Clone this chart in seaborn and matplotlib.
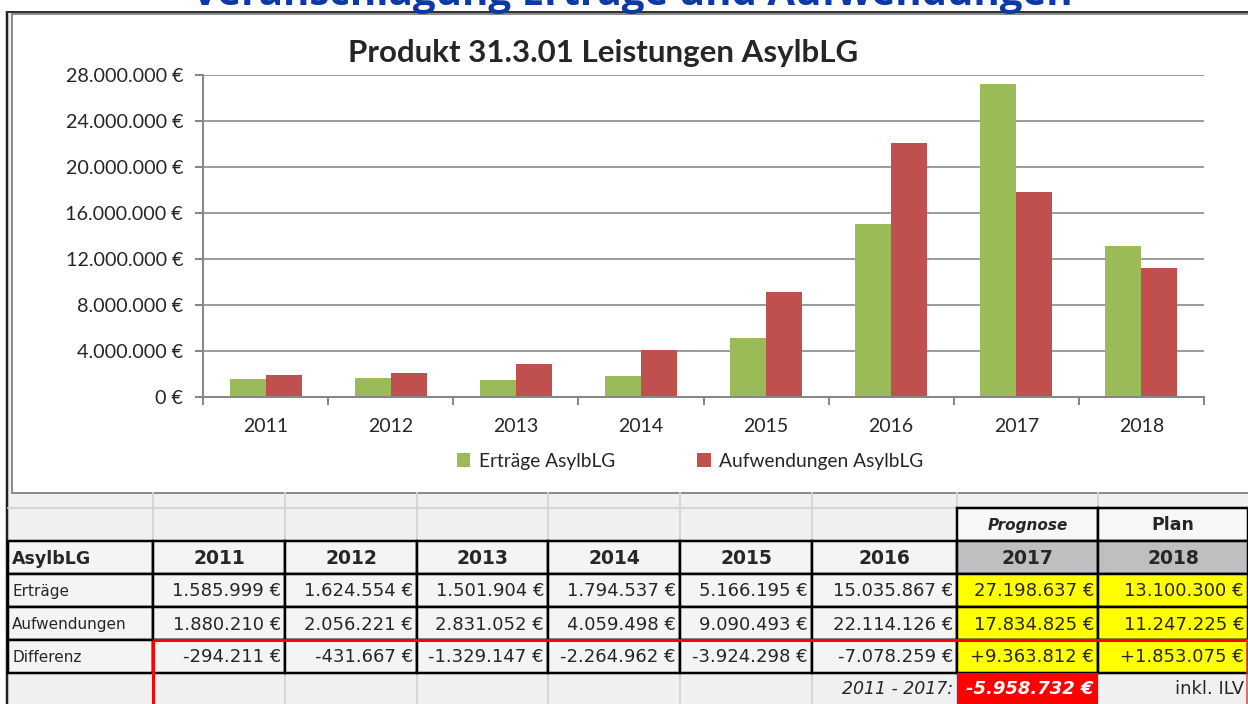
import pandas as pd
import seaborn as sns
import matplotlib
matplotlib.use('Agg')
import matplotlib.pyplot as plt
from matplotlib.patches import Rectangle
from matplotlib.ticker import FuncFormatter, FixedLocator


years = ['2011', '2012', '2013', '2014', '2015', '2016', '2017', '2018']
ertraege = [1585999, 1624554, 1501904, 1794537, 5166195, 15035867, 27198637, 13100300]
aufwendungen = [1880210, 2056221, 2831052, 4059498, 9090493, 22114126, 17834825, 11247225]
differenz = [-294211, -431667, -1329147, -2264962, -3924298, -7078259, 9363812, 1853075]
summe_label = '2011 - 2017:'
summe = -5958732
row_labels = ['Erträge', 'Aufwendungen', 'Differenz']
series_names = ['Erträge AsylbLG', 'Aufwendungen AsylbLG']

W, H = 1248, 704
GREEN = '#9BBB59'
RED = '#C0504D'
GRID = '#878787'
SHEET = '#F0F0F0'


def euro(v, sign=False):
    s = f'{abs(v):,}'.replace(',', '.') + ' €'
    if v < 0:
        return '-' + s
    if sign and v > 0:
        return '+' + s
    return s


def lw(p):
    return p * 0.72


sns.set_style('white')
plt.rcParams['font.family'] = ['Lato', 'DejaVu Sans']

fig = plt.figure(figsize=(W / 100, H / 100), dpi=100)

# background layer in pixel coordinates
bg = fig.add_axes([0, 0, 1, 1], zorder=0)
bg.set_xlim(0, W)
bg.set_ylim(H, 0)
bg.axis('off')

bg.add_patch(Rectangle((7, 12), W, H, facecolor=SHEET, edgecolor='none'))
bg.plot([7, 7], [11, H], color='#222222', lw=lw(2.5), solid_capstyle='butt')
bg.plot([7, W], [11.5, 11.5], color='#333333', lw=lw(2), solid_capstyle='butt')
bg.add_patch(Rectangle((12, 14), W, 479, facecolor='white', edgecolor='#8C8C8C', lw=lw(2)))

fig.text(632 / W, 1 - 5 / H, 'Veranschlagung Erträge und Aufwendungen', ha='center',
         va='baseline', color='#0B3AA6', fontsize=29, fontweight='bold',
         family=['Open Sans', 'DejaVu Sans'], zorder=5)

# chart
df = pd.DataFrame({
    'Jahr': years * 2,
    'Betrag': ertraege + aufwendungen,
    'Reihe': [series_names[0]] * len(years) + [series_names[1]] * len(years),
})

ax = fig.add_axes([203 / W, 1 - 397 / H, 1001 / W, 322 / H], zorder=2)
ax.patch.set_alpha(0)
sns.barplot(data=df, x='Jahr', y='Betrag', hue='Reihe', palette=[GREEN, RED],
            width=0.576, saturation=1, linewidth=0, ax=ax)
ax.set_xlim(-0.5, len(years) - 0.5)
ax.set_ylim(0, 28000000)
ax.set_yticks(range(0, 28000001, 4000000))
ax.yaxis.set_major_formatter(FuncFormatter(lambda v, p: euro(int(v))))
ax.yaxis.grid(True, color=GRID, lw=lw(1.6))
ax.set_axisbelow(True)
ax.set_xlabel('')
ax.set_ylabel('')
for s in ['top', 'right']:
    ax.spines[s].set_visible(False)
for s in ['left', 'bottom']:
    ax.spines[s].set_color(GRID)
    ax.spines[s].set_linewidth(lw(2))
ax.tick_params(axis='y', length=lw(8), width=lw(2), color=GRID, pad=lw(12), labelsize=14.2, left=True)
ax.tick_params(axis='x', which='major', length=0, pad=lw(21), labelsize=14)
ax.xaxis.set_minor_locator(FixedLocator([i - 0.5 for i in range(len(years) + 1)]))
ax.tick_params(axis='x', which='minor', length=lw(8), width=lw(2), color=GRID, bottom=True)

ax.legend(loc='center', bbox_to_anchor=(690 / W, 1 - 461 / H), bbox_transform=fig.transFigure,
          ncol=2, frameon=False, fontsize=13.8, handlelength=0.7, handleheight=0.7,
          handletextpad=0.45, columnspacing=4.3)

fig.text(603 / W, 1 - 53 / H, 'Produkt 31.3.01 Leistungen AsylbLG', ha='center', va='center',
         fontsize=22.5, fontweight='bold', zorder=5)

# table below the chart
cols = [8, 153, 285, 417, 548, 680, 812, 957, 1098, 1248]
rows = [493, 508, 541, 574, 607, 640, 673, 704]
tf = ['DejaVu Sans']

for x in cols[1:-1]:
    bg.plot([x, x], [493, 541], color='#D6D6D6', lw=lw(2))
    bg.plot([x, x], [673, H], color='#D6D6D6', lw=lw(2))
bg.plot([8, W], [508, 508], color='#D6D6D6', lw=lw(2))


def cell(ci, ri, fill='#F4F4F4', border=True):
    x0, x1 = cols[ci], cols[ci + 1]
    y0, y1 = rows[ri], rows[ri + 1]
    bg.add_patch(Rectangle((x0, y0), x1 - x0, y1 - y0, facecolor=fill,
                           edgecolor='black' if border else 'none', lw=lw(2.5), zorder=2))


def put(ci, ri, s, ha='right', **kw):
    x0, x1 = cols[ci], cols[ci + 1]
    y = (rows[ri] + rows[ri + 1]) / 2 + 1
    x = {'right': x1 - 4, 'left': x0 + 4, 'center': (x0 + x1) / 2}[ha]
    kw.setdefault('fontsize', 12)
    kw.setdefault('family', tf)
    bg.text(x, y, s, ha=ha, va='center', zorder=4, **kw)


cell(7, 1, '#F7F7F7')
cell(8, 1, '#F7F7F7')
put(7, 1, 'Prognose', ha='center', fontweight='bold', style='italic', fontsize=11)
put(8, 1, 'Plan', ha='center', fontweight='bold', fontsize=12.5)

for ci in range(9):
    cell(ci, 2, '#BFBFBF' if ci >= 7 else '#F4F4F4')
put(0, 2, 'AsylbLG', ha='left', fontweight='bold', fontsize=12.5)
for i, yr in enumerate(years):
    put(i + 1, 2, yr, ha='center', fontweight='bold', fontsize=13.5)

for ri, (label, vals) in enumerate(zip(row_labels, [ertraege, aufwendungen, differenz])):
    r = ri + 3
    for ci in range(9):
        cell(ci, r, '#FFFF00' if ci >= 7 else '#F4F4F4')
    put(0, r, label, ha='left', fontsize=11)
    for i, v in enumerate(vals):
        put(i + 1, r, euro(v, sign=(label == 'Differenz' and i >= 6)), fontsize=13)

cell(7, 6, '#FF0000', border=False)
put(6, 6, summe_label, style='italic', fontsize=12.5)
put(7, 6, euro(summe), color='white', fontweight='bold', style='italic', fontsize=13)
put(8, 6, 'inkl. ILV', fontsize=13)

bg.plot([153, W], [640, 640], color='#FF0000', lw=lw(3), zorder=5, solid_capstyle='butt')
bg.plot([153, 153], [640, H], color='#FF0000', lw=lw(3), zorder=5, solid_capstyle='butt')
bg.plot([W - 1, W - 1], [640, H], color='#E04040', lw=lw(1.5), zorder=5)

fig.savefig('out.png', dpi=100)
